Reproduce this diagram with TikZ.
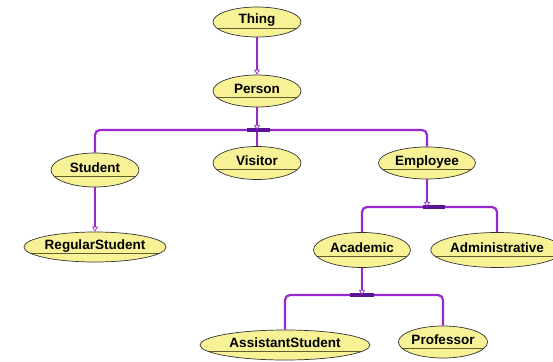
\documentclass[tikz,border=0pt]{standalone}
\usepackage{fontspec}
\setmainfont{Liberation Sans}
\usetikzlibrary{shapes.geometric, arrows.meta}

\definecolor{classfill}{RGB}{247,242,150}
\definecolor{linkpurple}{RGB}{150,40,205}
\definecolor{barpurple}{RGB}{90,20,150}
\definecolor{chordline}{RGB}{95,95,50}

\begin{document}
\begin{tikzpicture}[x=1pt,y=-1pt,
    cls/.style={draw=black!80,line width=0.7pt,fill=classfill,ellipse,inner sep=0pt,
      text height=10pt,text depth=6pt,font=\fontsize{13.5}{13.5}\selectfont\bfseries,
      path picture={\draw[chordline,line width=0.8pt]
        ([yshift=-6pt]path picture bounding box.west) --
        ([yshift=-6pt]path picture bounding box.east);}},
    link/.style={linkpurple,line width=2.2pt,rounded corners=5pt},
    isa/.style={link,-{Triangle[open,length=5pt,width=6pt,line width=0.7pt]}},
    junction/.style={barpurple,line width=3.5pt}]
        \useasboundingbox (0,0) rectangle (553,361);
        % classes
        \node[cls,minimum width=88pt,minimum height=30pt] (thing) at (257,22) {Thing};
        \node[cls,minimum width=88pt,minimum height=32pt] (person) at (257,91) {Person};
        \node[cls,minimum width=88pt,minimum height=34pt] (student) at (95,170) {Student};
        \node[cls,minimum width=88pt,minimum height=33pt] (visitor) at (257,163) {Visitor};
        \node[cls,minimum width=97pt,minimum height=32pt] (employee) at (427,163) {Employee};
        \node[cls,minimum width=140pt,minimum height=30pt] (regular) at (95,247) {RegularStudent};
        \node[cls,minimum width=97pt,minimum height=35pt] (academic) at (362,250) {Academic};
        \node[cls,minimum width=112pt,minimum height=35pt] (admin) at (497,250) {Administrative};
        \node[cls,minimum width=170pt,minimum height=30pt] (assistant) at (285,345) {AssistantStudent};
        \node[cls,minimum width=86pt,minimum height=32pt] (professor) at (443,342) {Professor};
        % split points
        \coordinate (split1) at (257,130);
        \coordinate (split2) at (427,207);
        \coordinate (split3) at (362,295);
        % links
        \draw[isa] (thing) -- (person);
        \draw[isa] (student) -- (regular);
        \draw[link] (split1) -| (student);
        \draw[link] (split1) -- (visitor);
        \draw[link] (split1) -| (employee);
        \draw[link] (split2) -| (academic);
        \draw[link] (split2) -| (admin);
        \draw[link] (split3) -| (assistant);
        \draw[link] (split3) -| (professor);
        \draw[junction] ([xshift=-10pt]split1) -- ([xshift=13pt]split1);
        \draw[junction] ([xshift=-4pt]split2) -- ([xshift=18pt]split2);
        \draw[junction] ([xshift=-12pt]split3) -- ([xshift=12pt]split3);
        \draw[isa] (person) -- (split1);
        \draw[isa] (employee) -- (split2);
        \draw[isa] (academic) -- (split3);
\end{tikzpicture}
\end{document}
